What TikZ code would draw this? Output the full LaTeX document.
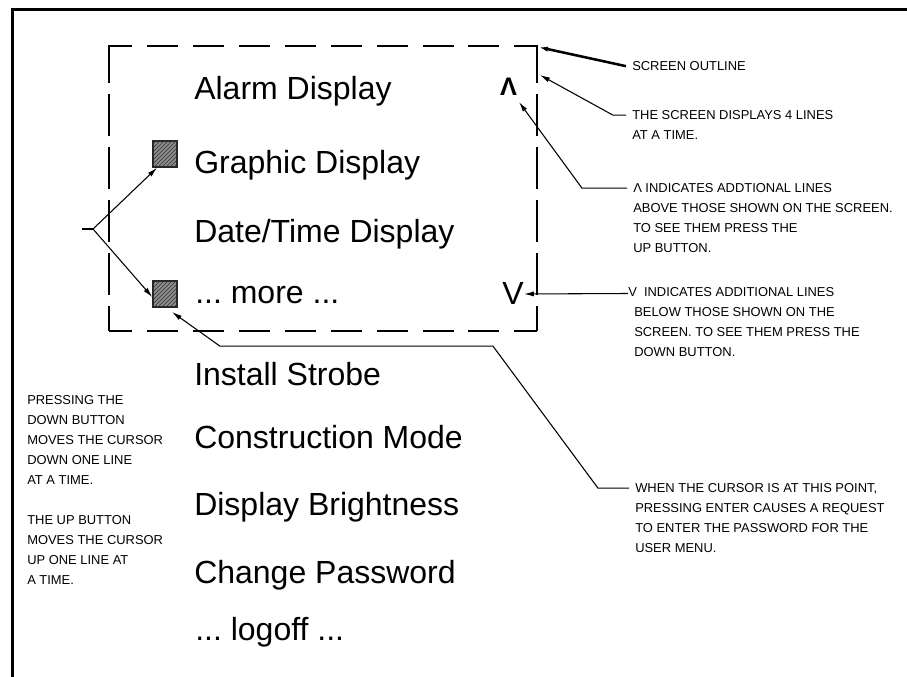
\documentclass[tikz,border=0pt]{standalone}
\usepackage{fontspec}
\setmainfont{Liberation Sans}
\frenchspacing
\usetikzlibrary{arrows.meta,patterns}

\begin{document}
\begin{tikzpicture}[
    x=0.75pt, y=-0.75pt,
    >={Latex[length=7.5pt,width=3.8pt]},
    item/.style={anchor=base west, inner sep=0pt, font=\fontsize{24}{28}\selectfont},
    note/.style={anchor=north west, align=left, inner xsep=4.5pt, inner ysep=0pt,
      font=\fontsize{9.7}{15}\selectfont},
    cursor/.style={draw=black!85, line width=1pt, fill=black!45,
      postaction={pattern=north east lines, pattern color=black!80},
      minimum width=18pt, minimum height=19.5pt, inner sep=0pt},
    frame/.style={line width=2.25pt},
    edgeh/.style={dash pattern=on 23.25pt off 11.2pt, dash phase=6pt},
    edgev/.style={dash pattern=on 31.5pt off 8.25pt, dash phase=3.75pt},
    side/.style={line width=1.1pt},
    heavy/.style={line width=1.9pt},
    lead/.style={->, line width=0.8pt}]

  \useasboundingbox (0,0) rectangle (907,677);

  % ---- page frame ----
  \draw[frame] (912,10) -- (12,10) -- (12,682);

  % ---- screen outline (4 lines visible) ----
  \draw[heavy, edgeh] (109,46) -- (537,46);
  \draw[side, edgeh] (109,331) -- (537,331);
  \draw[side, edgev] (109,46) -- (109,331);
  \draw[side, edgev] (537,46) -- (537,331);
  \draw[heavy] (109,45) -- (109,83);
  \draw[heavy] (537,45) -- (537,83);
  \coordinate (corner) at (538,47);
  \coordinate (stub) at (540,75);
  \coordinate (uptip) at (519,102);
  \coordinate (curtip) at (172,312);

  % ---- menu lines ----
  \node[item] (alarm) at (194,100) {Alarm Display};
  \node[item] (graph) at (194,174) {Graphic Display};
  \node[item] (date)  at (194,243) {Date/Time Display};
  \node[item] (more)  at (195,304) {... more ...};
  \node[item] (strobe) at (194,385) {Install Strobe};
  \node[item] (constr) at (194,448) {Construction Mode};
  \node[item] (bright) at (194,515) {Display Brightness};
  \node[item] (passw)  at (194,583) {Change Password};
  \node[item] (logoff) at (195,640) {... logoff ...};

  % ---- scroll marks ----
  \node[anchor=base, inner sep=0pt, font=\fontsize{19}{20}\selectfont\bfseries] (up) at (508.5,96) {Λ};
  \node[item] (dn) at (502,305) {V};

  % ---- cursor positions ----
  \node[cursor] (cur1) at (165,154) {};
  \node[cursor] (cur2) at (165,294) {};
  \coordinate (stem) at (82,229);
  \coordinate (fork) at (93,229);
  \draw[line width=0.8pt] (stem) -- (fork);
  \draw[lead] (fork) -- (cur1.-120);
  \draw[lead] (fork) -- (cur2.194);

  % ---- notes ----
  \node[note] (sout)  at (626,61.5) {SCREEN OUTLINE};
  \node[note] (lines) at (626,110.5) {THE SCREEN DISPLAYS 4 LINES\\AT A TIME.};
  \node[note] (above) at (627,183.5) {Λ INDICATES ADDTIONAL LINES\\ABOVE THOSE SHOWN ON THE SCREEN.\\TO SEE THEM PRESS THE\\UP BUTTON.};
  \node[note] (below) at (628,287.5) {\hspace*{-4.5pt}V\hspace{0.55em}INDICATES ADDITIONAL LINES\\BELOW THOSE SHOWN ON THE\\SCREEN. TO SEE THEM PRESS THE\\DOWN BUTTON.};
  \node[note] (pwd)   at (629,483.5) {WHEN THE CURSOR IS AT THIS POINT,\\PRESSING ENTER CAUSES A REQUEST\\TO ENTER THE PASSWORD FOR THE\\USER MENU.};
  \node[note] (keys)  at (21,395.5) {PRESSING THE\\DOWN BUTTON\\MOVES THE CURSOR\\DOWN ONE LINE\\AT A TIME.\\[15pt]THE UP BUTTON\\MOVES THE CURSOR\\UP ONE LINE AT\\A TIME.};

  % ---- leaders ----
  \draw[lead, line width=1.9pt] ([yshift=-3.5pt]sout.north west) -- (corner);
  \draw[lead] ([yshift=-3.5pt]lines.north west) -- ++(-13,0) -- (stub);
  \draw[lead] ([yshift=-3.5pt]above.north west) -- ++(-45,0) -- (uptip);
  \draw[lead] ([yshift=-4.5pt]below.north west) -- (dn.east);
  \draw[lead] ([yshift=-3.5pt]pwd.north west) -- ++(-31,0) -- ++(-105,-142) -- ++(-273,0) -- (curtip);
\end{tikzpicture}
\end{document}
